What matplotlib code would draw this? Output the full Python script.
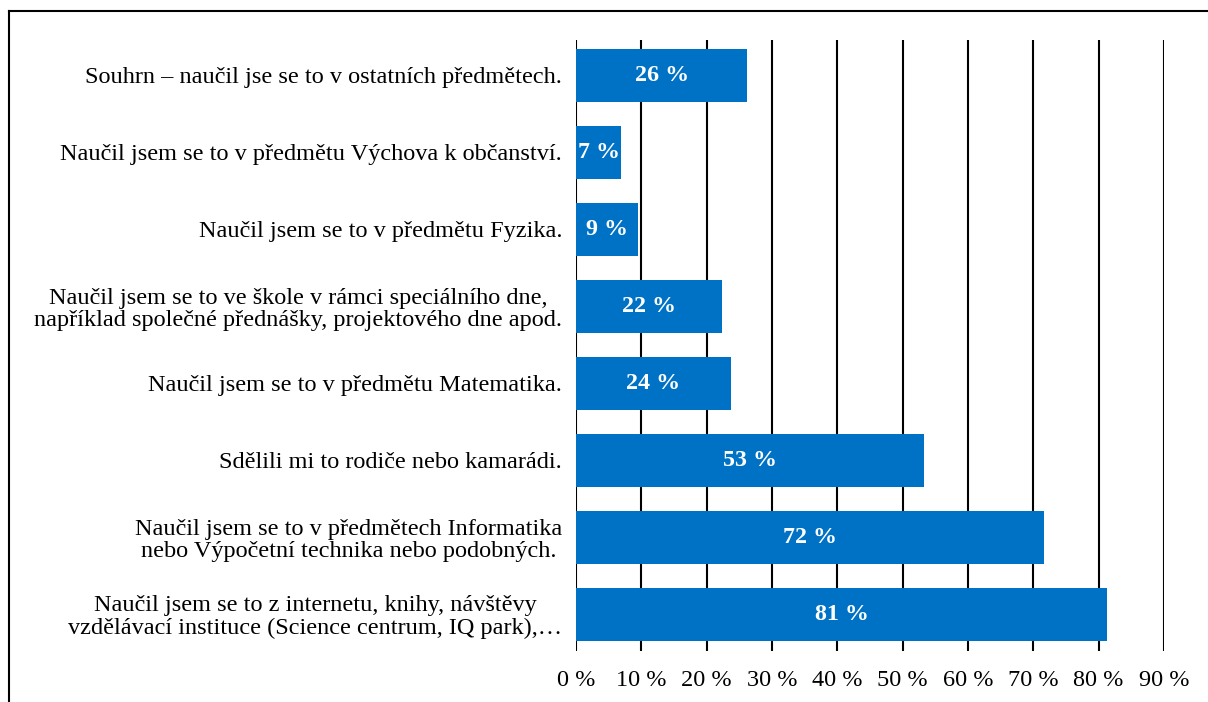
import matplotlib
matplotlib.use('Agg')
import matplotlib.pyplot as plt
from matplotlib.lines import Line2D


categories = [
	'Souhrn – naučil jse se to v ostatních předmětech.',
	'Naučil jsem se to v předmětu Výchova k občanství.',
	'Naučil jsem se to v předmětu Fyzika.',
	'Naučil jsem se to ve škole v rámci speciálního dne,\nnapříklad společné přednášky, projektového dne apod.',
	'Naučil jsem se to v předmětu Matematika.',
	'Sdělili mi to rodiče nebo kamarádi.',
	'Naučil jsem se to v předmětech Informatika\nnebo Výpočetní technika nebo podobných.',
	'Naučil jsem se to z internetu, knihy, návštěvy\nvzdělávací instituce (Science centrum, IQ park),…',
]
values = [26.2, 6.9, 9.5, 22.4, 23.7, 53.3, 71.7, 81.3]
value_labels = ['26 %', '7 %', '9 %', '22 %', '24 %', '53 %', '72 %', '81 %']
xticks = [0, 10, 20, 30, 40, 50, 60, 70, 80, 90]
xtick_labels = [f'{t} %' for t in xticks]

plt.rcParams['font.family'] = ['Liberation Serif', 'DejaVu Serif']

W, H = 1208, 702
fig = plt.figure(figsize=(W / 100, H / 100), dpi=100)
ax = fig.add_axes([576 / W, 1 - 651 / H, 588 / W, 611 / H])

ypos = list(range(len(values)))
ax.barh(ypos, values, height=0.69, color='#0072C6', zorder=2)
for y, v, lab in zip(ypos, values, value_labels):
	ax.text(v / 2, y, lab, ha='center', va='center', color='white',
		fontsize=17.3, fontweight='bold', zorder=3)

ax.set_xlim(0, 90)
ax.set_ylim(7.48, -0.46)
ax.set_xticks(xticks)
ax.set_xticklabels(xtick_labels, fontsize=17.5)
ax.set_yticks(ypos)
ax.set_yticklabels(categories, fontsize=17.5, linespacing=1.1)
for lab in ax.get_yticklabels():
	lab.set_multialignment('center')
ax.tick_params(axis='y', length=0, pad=10)
ax.tick_params(axis='x', length=0, pad=14)
ax.grid(axis='x', color='black', linewidth=1.5, zorder=1)
for s in ax.spines.values():
	s.set_visible(False)

# frame around the chart
fig.add_artist(Line2D([8.5 / W, 1], [1 - 10.5 / H, 1 - 10.5 / H],
	color='black', linewidth=1.5))
fig.add_artist(Line2D([8.5 / W, 8.5 / W], [0, 1 - 10.5 / H],
	color='black', linewidth=1.5))

fig.savefig('out.png', dpi=100)
